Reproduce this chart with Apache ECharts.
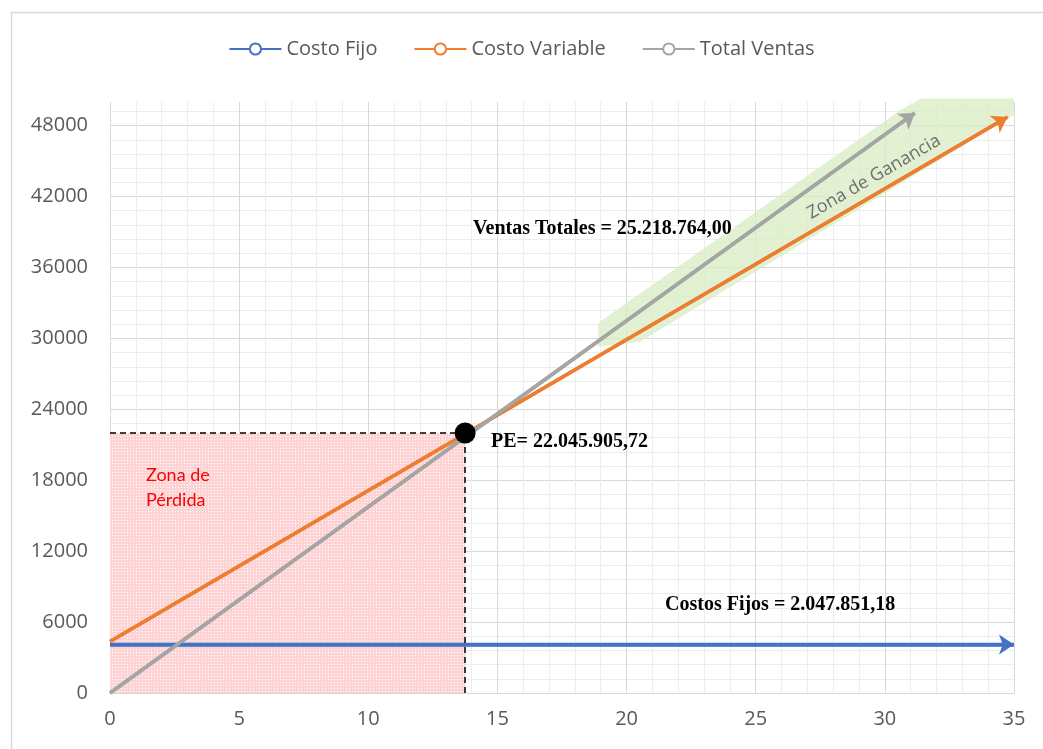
<!DOCTYPE html>
<html>
<head>
<meta charset="utf-8">
<script src="https://cdn.jsdelivr.net/npm/echarts@6/dist/echarts.min.js"></script>
<style>
  html, body { margin: 0; padding: 0; background: #fff; }
  #chart { width: 1043px; height: 749px; }
</style>
</head>
<body>
<div id="chart"></div>
<script>
// datos
const costoFijo = [[0, 4100], [35, 4100]]
const costoVariable = [[0, 4350], [34.75, 48740]]
const totalVentas = [[0, 0], [31.16, 49070]]
const puntoEquilibrio = [[13.75, 22000]]
const zonaPerdida = [[0, 0], [13.75, 22000]]
const zonaGanancia = [[18.9, 29300], [18.9, 31300], [30.6, 49300], [31.4, 50300], [35, 50300], [35, 48900], [20.5, 29700]]

const xMax = 35
const yMax = 50000
const xMajor = 5
const yMajor = 6000

const majorColor = '#d9d9d9'
const minorColor = '#ededed'
const gridColors = [majorColor, minorColor, minorColor, minorColor, minorColor]

// trama de puntos para la zona de perdida
function dotPattern() {
  const c = document.createElement('canvas')
  c.width = 3
  c.height = 3
  const ctx = c.getContext('2d')
  ctx.fillStyle = '#fdd3d3'
  ctx.fillRect(0, 0, 3, 3)
  ctx.fillStyle = '#ffffff'
  ctx.fillRect(1, 1, 1, 1)
  return { image: c, repeat: 'repeat' }
}

function arrowLine(data, color) {
  return {
    silent: true,
    animation: false,
    symbol: ['none', 'arrow'],
    symbolSize: 15,
    label: { show: false },
    lineStyle: { color: color, width: 3.5, type: 'solid' },
    emphasis: { disabled: true },
    data: [[{ coord: data[0] }, { coord: data[data.length - 1] }]]
  }
}

function note(left, top, text) {
  return {
    type: 'text',
    left: left,
    top: top,
    z: 100,
    style: {
      text: text,
      fontFamily: 'Liberation Serif',
      fontWeight: 'bold',
      fontSize: 20,
      fill: '#000'
    }
  }
}

const chart = echarts.init(document.getElementById('chart'))

chart.setOption({
  animation: false,
  textStyle: { fontFamily: 'Open Sans' },
  grid: { left: 110, right: 29, top: 102, bottom: 56 },
  legend: {
    data: ['Costo Fijo', 'Costo Variable', 'Total Ventas'],
    top: 34,
    left: 'center',
    itemWidth: 52,
    itemHeight: 14,
    itemGap: 36,
    textStyle: { fontSize: 20, color: '#595959', fontFamily: 'Open Sans' }
  },
  xAxis: {
    type: 'value',
    min: 0,
    max: xMax,
    interval: 1,
    axisLine: { show: true, lineStyle: { color: majorColor, width: 1 } },
    axisTick: { show: false },
    axisLabel: {
      fontSize: 20,
      color: '#595959',
      margin: 16,
      formatter: v => (v % xMajor === 0 ? String(v) : '')
    },
    splitLine: { show: true, lineStyle: { color: gridColors, width: 1 } }
  },
  yAxis: {
    type: 'value',
    min: 0,
    max: yMax,
    interval: yMajor / 5,
    axisLine: { show: true, lineStyle: { color: majorColor, width: 1 } },
    axisTick: { show: false },
    axisLabel: {
      fontSize: 20,
      color: '#595959',
      margin: 22,
      showMaxLabel: false,
      formatter: v => (v % yMajor === 0 ? String(v) : '')
    },
    splitLine: { show: true, showMaxLine: false, lineStyle: { color: gridColors, width: 1 } }
  },
  series: [
    {
      name: 'zonaGanancia',
      type: 'custom',
      z: 1,
      silent: true,
      data: [0],
      renderItem: function (params, api) {
        const pts = zonaGanancia.map(p => api.coord(p))
        return {
          type: 'polygon',
          shape: { points: pts },
          style: { fill: 'rgba(215, 236, 195, 0.75)' }
        }
      }
    },
    {
      name: 'Costo Fijo',
      type: 'line',
      z: 3,
      data: costoFijo,
      symbol: 'emptyCircle',
      symbolSize: 10,
      showSymbol: false,
      color: '#4472c4',
      lineStyle: { width: 3.5, color: '#4472c4' },
      markArea: {
        silent: true,
        itemStyle: { color: dotPattern() },
        data: [[{ coord: zonaPerdida[0] }, { coord: zonaPerdida[1] }]]
      },
      markLine: arrowLine(costoFijo, '#4472c4')
    },
    {
      name: 'Costo Variable',
      type: 'line',
      z: 3,
      data: costoVariable,
      symbol: 'emptyCircle',
      symbolSize: 10,
      showSymbol: false,
      color: '#ed7d31',
      lineStyle: { width: 3.5, color: '#ed7d31' },
      markLine: arrowLine(costoVariable, '#ed7d31')
    },
    {
      name: 'Total Ventas',
      type: 'line',
      z: 2,
      data: totalVentas,
      symbol: 'emptyCircle',
      symbolSize: 10,
      showSymbol: false,
      color: '#a5a5a5',
      lineStyle: { width: 3.5, color: '#a5a5a5' },
      markLine: arrowLine(totalVentas, '#a5a5a5')
    },
    {
      name: 'PE',
      type: 'scatter',
      z: 5,
      data: puntoEquilibrio,
      symbolSize: 21,
      itemStyle: { color: '#000', opacity: 1 },
      markLine: {
        silent: true,
        symbol: 'none',
        label: { show: false },
        lineStyle: { color: '#000', width: 1.5, type: [6, 4] },
        data: [
          [{ coord: [0, puntoEquilibrio[0][1]] }, { coord: puntoEquilibrio[0] }],
          [{ coord: [puntoEquilibrio[0][0], 0] }, { coord: puntoEquilibrio[0] }]
        ]
      }
    }
  ],
  graphic: [
    {
      type: 'rect',
      left: 9,
      top: 10,
      silent: true,
      shape: { width: 1100, height: 800 },
      style: { fill: 'none', stroke: '#d9d9d9', lineWidth: 1.5 }
    },
    note(473, 219, 'Ventas Totales = 25.218.764,00'),
    note(491, 432, 'PE= 22.045.905,72'),
    note(665, 595, 'Costos Fijos = 2.047.851,18'),
    {
      type: 'text',
      left: 146,
      top: 463,
      z: 100,
      style: {
        text: 'Zona de\nPérdida',
        fontFamily: 'Lato',
        fontSize: 18,
        lineHeight: 25,
        fill: '#ff0000'
      }
    },
    {
      type: 'text',
      x: 874,
      y: 177,
      z: 100,
      rotation: 30 * Math.PI / 180,
      style: {
        text: 'Zona de Ganancia',
        fontFamily: 'Open Sans',
        fontSize: 18,
        fill: '#707070',
        align: 'center',
        verticalAlign: 'middle'
      }
    }
  ]
})
</script>
</body>
</html>
